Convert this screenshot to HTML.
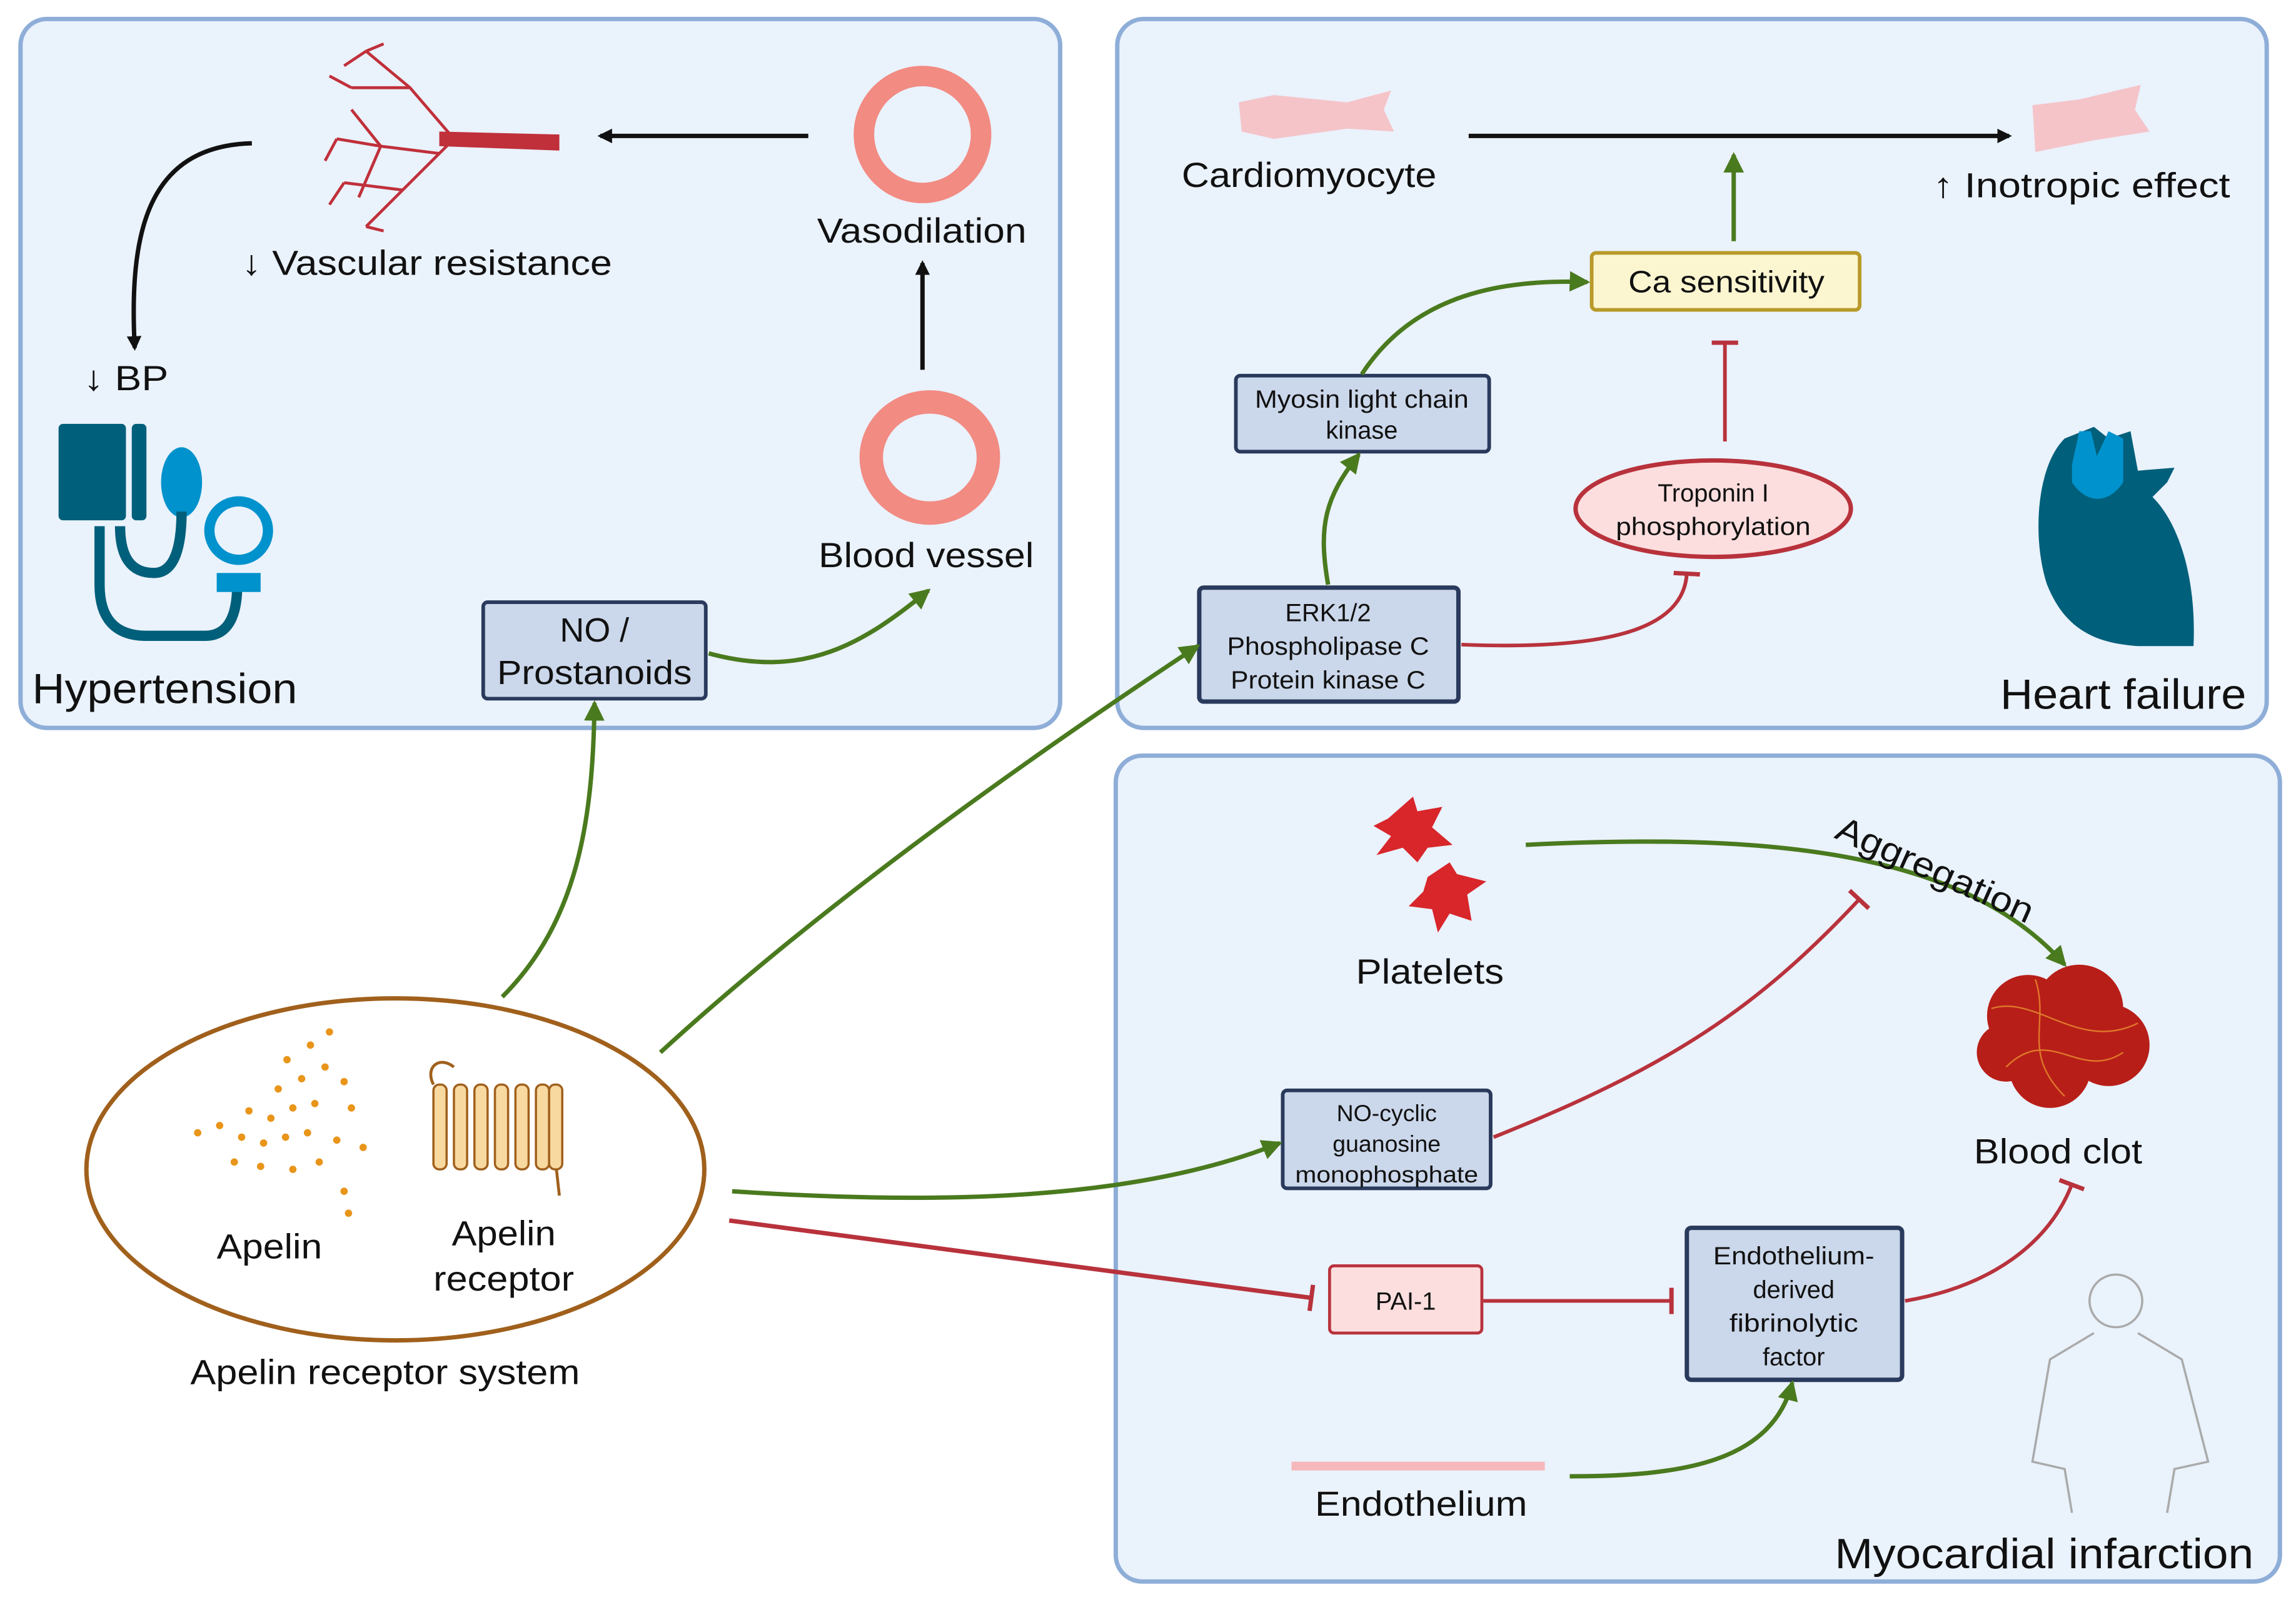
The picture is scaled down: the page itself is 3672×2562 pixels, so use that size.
<!DOCTYPE html>
<html><head><meta charset="utf-8"><style>
html,body{margin:0;padding:0;background:#fff}
svg{display:block}
text{font-family:"Liberation Sans",sans-serif;fill:#111}
</style></head><body>
<svg width="3672" height="2562" viewBox="0 0 1568 1096" preserveAspectRatio="none" xmlns="http://www.w3.org/2000/svg">
<defs>
<marker id="ab" markerWidth="10" markerHeight="10" refX="8" refY="5" orient="auto" markerUnits="userSpaceOnUse" viewBox="0 0 10 10"><path d="M0,0 L10,5 L0,10 Z" fill="#111"/></marker>
<marker id="ag" markerWidth="14" markerHeight="14" refX="12" refY="7" orient="auto" markerUnits="userSpaceOnUse" viewBox="0 0 14 14"><path d="M0,0 L14,7 L0,14 Z" fill="#4a7a1e"/></marker>
<marker id="tr" markerWidth="4" markerHeight="18" refX="2" refY="9" orient="auto" markerUnits="userSpaceOnUse" viewBox="0 0 4 18"><rect x="0" y="0" width="3" height="18" fill="#b8323c"/></marker>
</defs>
<g fill="#eaf2fc" stroke="#8eaed8" stroke-width="3">
<rect x="14" y="13" width="710" height="485" rx="18"/>
<rect x="763" y="13" width="785" height="485" rx="18"/>
<rect x="762" y="517" width="795" height="565" rx="18"/>
</g>
<!-- panel 1 -->
<g stroke="#c0303a" stroke-width="2" fill="none">
<path d="M380,97 L310,95 L280,60 L250,35 M280,60 L240,60 M310,95 L275,130 L250,155 M275,130 L235,125 M300,105 L260,100 L230,95 M260,100 L240,75 M260,100 L245,135 M250,35 L235,45 M250,35 L262,30 M240,60 L225,52 M230,95 L222,110 M250,155 L262,158 M235,125 L225,140"/>
</g>
<path d="M300,90 L382,92 L382,103 L300,100 Z" fill="#c0303a"/>
<text x="165" y="188" font-size="24" textLength="253" lengthAdjust="spacingAndGlyphs">↓ Vascular resistance</text>
<circle cx="630" cy="92" r="40" fill="none" stroke="#f28b82" stroke-width="14"/>
<text x="558" y="166" font-size="24" textLength="143" lengthAdjust="spacingAndGlyphs">Vasodilation</text>
<line x1="552" y1="93" x2="410" y2="93" stroke="#111" stroke-width="3" marker-end="url(#ab)"/>
<line x1="630" y1="253" x2="630" y2="180" stroke="#111" stroke-width="3" marker-end="url(#ab)"/>
<path d="M172,98 C100,100 88,160 92,238" fill="none" stroke="#111" stroke-width="3" marker-end="url(#ab)"/>
<text x="57" y="267" font-size="24" textLength="58" lengthAdjust="spacingAndGlyphs">↓ BP</text>
<ellipse cx="635" cy="313" rx="40" ry="38" fill="none" stroke="#f28b82" stroke-width="16"/>
<text x="559" y="388" font-size="24" textLength="147" lengthAdjust="spacingAndGlyphs">Blood vessel</text>
<rect x="40" y="290" width="46" height="66" rx="3" fill="#005f7a"/>
<rect x="90" y="290" width="10" height="66" rx="3" fill="#005f7a"/>
<ellipse cx="124" cy="330" rx="14" ry="24" fill="#0092cc"/>
<path d="M68,360 L68,400 Q68,435 100,435 L140,435 Q162,435 162,400" fill="none" stroke="#005f7a" stroke-width="7"/>
<path d="M82,360 Q82,392 105,392 Q124,392 124,350" fill="none" stroke="#005f7a" stroke-width="7"/>
<circle cx="163" cy="363" r="20" fill="none" stroke="#0092cc" stroke-width="7"/>
<rect x="148" y="392" width="30" height="13" fill="#0092cc"/>
<text x="22" y="481" font-size="29" textLength="181" lengthAdjust="spacingAndGlyphs">Hypertension</text>
<rect x="330" y="412" width="152" height="66" rx="3" fill="#cbd7ea" stroke="#2a3a5c" stroke-width="2.5"/>
<text x="406" y="439" font-size="23" text-anchor="middle">NO /</text>
<text x="406" y="468" font-size="23" text-anchor="middle" textLength="133" lengthAdjust="spacingAndGlyphs">Prostanoids</text>
<path d="M484,447 C550,465 590,440 634,404" fill="none" stroke="#4a7a1e" stroke-width="3" marker-end="url(#ag)"/>
<!-- panel 2 -->
<path d="M846,70 L870,65 L920,70 L950,62 L945,75 L952,90 L920,88 L870,95 L848,90 Z" fill="#f7b8bb" opacity="0.8"/>
<path d="M1388,72 L1420,68 L1462,58 L1458,75 L1468,90 L1430,96 L1390,104 Z" fill="#f7b8bb" opacity="0.8"/>
<text x="807" y="128" font-size="24" textLength="174" lengthAdjust="spacingAndGlyphs">Cardiomyocyte</text>
<line x1="1003" y1="93" x2="1372" y2="93" stroke="#111" stroke-width="3" marker-end="url(#ab)"/>
<text x="1320" y="135" font-size="24" textLength="203" lengthAdjust="spacingAndGlyphs">↑ Inotropic effect</text>
<line x1="1184" y1="165" x2="1184" y2="106" stroke="#4a7a1e" stroke-width="3" marker-end="url(#ag)"/>
<rect x="1087" y="173" width="183" height="39" rx="3" fill="#fcf6d0" stroke="#b89a2a" stroke-width="2.5"/>
<text x="1179" y="200" font-size="21" text-anchor="middle" textLength="134" lengthAdjust="spacingAndGlyphs">Ca sensitivity</text>
<line x1="1178" y1="302" x2="1178" y2="234" stroke="#b8323c" stroke-width="2.5" marker-end="url(#tr)"/>
<rect x="844" y="257" width="173" height="52" rx="3" fill="#cbd7ea" stroke="#2a3a5c" stroke-width="2.5"/>
<text x="930" y="279" font-size="17" text-anchor="middle" textLength="146" lengthAdjust="spacingAndGlyphs">Myosin light chain</text>
<text x="930" y="300" font-size="17" text-anchor="middle">kinase</text>
<path d="M930,256 C960,210 1010,190 1084,193" fill="none" stroke="#4a7a1e" stroke-width="3" marker-end="url(#ag)"/>
<ellipse cx="1170" cy="348" rx="94" ry="33" fill="#fcdede" stroke="#b8323c" stroke-width="3"/>
<text x="1170" y="343" font-size="17" text-anchor="middle">Troponin I</text>
<text x="1170" y="366" font-size="17" text-anchor="middle" textLength="133" lengthAdjust="spacingAndGlyphs">phosphorylation</text>
<rect x="819" y="402" width="177" height="78" rx="3" fill="#cbd7ea" stroke="#2a3a5c" stroke-width="3"/>
<text x="907" y="425" font-size="17" text-anchor="middle">ERK1/2</text>
<text x="907" y="448" font-size="17" text-anchor="middle" textLength="138" lengthAdjust="spacingAndGlyphs">Phospholipase C</text>
<text x="907" y="471" font-size="17" text-anchor="middle" textLength="133" lengthAdjust="spacingAndGlyphs">Protein kinase C</text>
<path d="M907,400 C900,360 905,340 928,311" fill="none" stroke="#4a7a1e" stroke-width="3" marker-end="url(#ag)"/>
<path d="M998,441 C1100,445 1150,430 1152,392" fill="none" stroke="#b8323c" stroke-width="2.5" marker-end="url(#tr)"/>
<path d="M1410,300 C1390,320 1388,370 1398,400 C1410,430 1430,440 1460,442 L1498,442 C1500,400 1490,360 1470,340 L1480,330 L1485,320 L1460,322 L1455,295 L1440,300 L1430,292 Z" fill="#005f7a"/>
<path d="M1415,318 L1420,295 L1428,295 L1432,312 L1440,295 L1450,300 L1450,330 C1440,345 1425,345 1415,330 Z" fill="#0092cc"/>
<text x="1366" y="485" font-size="29" textLength="168" lengthAdjust="spacingAndGlyphs">Heart failure</text>
<!-- panel 3 -->
<g fill="#d8262a">
<path d="M948,560 L965,545 L968,555 L985,552 L978,566 L992,578 L975,580 L968,590 L958,580 L940,585 L950,572 L938,565 Z"/>
<path d="M975,600 L990,590 L995,598 L1015,603 L1002,612 L1005,630 L990,625 L982,638 L978,622 L962,620 L972,610 Z"/>
</g>
<text x="926" y="673" font-size="24" textLength="101" lengthAdjust="spacingAndGlyphs">Platelets</text>
<path d="M1042,578 C1200,570 1340,580 1410,660" fill="none" stroke="#4a7a1e" stroke-width="3" marker-end="url(#ag)"/>
<text x="1252" y="573" font-size="24" transform="rotate(24 1252 573)" textLength="145" lengthAdjust="spacingAndGlyphs">Aggregation</text>
<g fill="#b81e18"><circle cx="1385" cy="695" r="28"/><circle cx="1420" cy="690" r="30"/><circle cx="1440" cy="715" r="28"/><circle cx="1400" cy="730" r="28"/><circle cx="1370" cy="720" r="20"/></g>
<g fill="none" stroke="#f0a030" stroke-width="1" opacity="0.7"><path d="M1360,690 C1390,680 1420,720 1460,700 M1370,730 C1400,700 1420,740 1450,720 M1390,670 C1400,700 1380,720 1410,750"/></g>
<text x="1348" y="796" font-size="24" textLength="115" lengthAdjust="spacingAndGlyphs">Blood clot</text>
<rect x="876" y="746" width="142" height="67" rx="3" fill="#cbd7ea" stroke="#2a3a5c" stroke-width="2.5"/>
<text x="947" y="767" font-size="16" text-anchor="middle">NO-cyclic</text>
<text x="947" y="788" font-size="16" text-anchor="middle">guanosine</text>
<text x="947" y="809" font-size="16" text-anchor="middle" textLength="125" lengthAdjust="spacingAndGlyphs">monophosphate</text>
<path d="M1020,778 C1140,730 1200,690 1270,615" fill="none" stroke="#b8323c" stroke-width="2.5" marker-end="url(#tr)"/>
<rect x="908" y="866" width="104" height="46" rx="3" fill="#fcdede" stroke="#b8323c" stroke-width="2"/>
<text x="960" y="896" font-size="17" text-anchor="middle">PAI-1</text>
<line x1="1013" y1="890" x2="1142" y2="890" stroke="#b8323c" stroke-width="2.5" marker-end="url(#tr)"/>
<rect x="1152" y="840" width="147" height="104" rx="3" fill="#cbd7ea" stroke="#2a3a5c" stroke-width="3"/>
<text x="1225" y="865" font-size="17" text-anchor="middle" textLength="110" lengthAdjust="spacingAndGlyphs">Endothelium-</text>
<text x="1225" y="888" font-size="17" text-anchor="middle">derived</text>
<text x="1225" y="911" font-size="17" text-anchor="middle" textLength="88" lengthAdjust="spacingAndGlyphs">fibrinolytic</text>
<text x="1225" y="934" font-size="17" text-anchor="middle">factor</text>
<path d="M1301,890 C1360,880 1400,850 1415,810" fill="none" stroke="#b8323c" stroke-width="2.5" marker-end="url(#tr)"/>
<path d="M882,1000 L1055,1000 L1055,1006 L882,1006 Z" fill="#f7b8bb"/>
<text x="898" y="1037" font-size="24" textLength="145" lengthAdjust="spacingAndGlyphs">Endothelium</text>
<path d="M1072,1010 C1150,1010 1210,1000 1224,946" fill="none" stroke="#4a7a1e" stroke-width="3" marker-end="url(#ag)"/>
<g fill="none" stroke="#aaa" stroke-width="1.5"><circle cx="1445" cy="890" r="18"/><path d="M1430,912 L1400,930 L1388,1000 L1410,1005 L1415,1035 M1460,912 L1490,930 L1508,1000 L1485,1005 L1480,1035"/></g>
<text x="1253" y="1073" font-size="29" textLength="286" lengthAdjust="spacingAndGlyphs">Myocardial infarction</text>
<!-- apelin system -->
<ellipse cx="270" cy="800" rx="211" ry="117" fill="#fff" stroke="#a0601c" stroke-width="3"/>
<g fill="#e8951a">
<circle cx="196" cy="725" r="2.5"/><circle cx="212" cy="715" r="2.5"/><circle cx="225" cy="706" r="2.5"/><circle cx="190" cy="745" r="2.5"/><circle cx="206" cy="738" r="2.5"/><circle cx="222" cy="730" r="2.5"/><circle cx="235" cy="740" r="2.5"/><circle cx="170" cy="760" r="2.5"/><circle cx="185" cy="765" r="2.5"/><circle cx="200" cy="758" r="2.5"/><circle cx="215" cy="755" r="2.5"/><circle cx="240" cy="758" r="2.5"/><circle cx="135" cy="775" r="2.5"/><circle cx="150" cy="770" r="2.5"/><circle cx="165" cy="778" r="2.5"/><circle cx="180" cy="782" r="2.5"/><circle cx="195" cy="778" r="2.5"/><circle cx="210" cy="775" r="2.5"/><circle cx="230" cy="780" r="2.5"/><circle cx="248" cy="785" r="2.5"/><circle cx="160" cy="795" r="2.5"/><circle cx="178" cy="798" r="2.5"/><circle cx="200" cy="800" r="2.5"/><circle cx="218" cy="795" r="2.5"/><circle cx="235" cy="815" r="2.5"/><circle cx="238" cy="830" r="2.5"/>
</g>
<g fill="#f8d9a0" stroke="#a0601c" stroke-width="1.5">
<rect x="296" y="742" width="9" height="58" rx="4"/><rect x="310" y="742" width="9" height="58" rx="4"/><rect x="324" y="742" width="9" height="58" rx="4"/><rect x="338" y="742" width="9" height="58" rx="4"/><rect x="352" y="742" width="9" height="58" rx="4"/><rect x="366" y="742" width="9" height="58" rx="4"/><rect x="375" y="742" width="9" height="58" rx="4"/>
</g>
<path d="M296,742 C290,730 300,722 310,730 M380,800 L382,818" fill="none" stroke="#a0601c" stroke-width="2"/>
<text x="148" y="861" font-size="24" textLength="72" lengthAdjust="spacingAndGlyphs">Apelin</text>
<text x="344" y="852" font-size="24" text-anchor="middle" textLength="71" lengthAdjust="spacingAndGlyphs">Apelin</text>
<text x="344" y="883" font-size="24" text-anchor="middle" textLength="96" lengthAdjust="spacingAndGlyphs">receptor</text>
<text x="130" y="947" font-size="24" textLength="266" lengthAdjust="spacingAndGlyphs">Apelin receptor system</text>
<!-- connectors -->
<path d="M343,682 C395,630 405,560 406,481" fill="none" stroke="#4a7a1e" stroke-width="3" marker-end="url(#ag)"/>
<path d="M451,720 C560,620 700,520 818,442" fill="none" stroke="#4a7a1e" stroke-width="3" marker-end="url(#ag)"/>
<path d="M500,815 C650,825 780,820 874,782" fill="none" stroke="#4a7a1e" stroke-width="3" marker-end="url(#ag)"/>
<line x1="498" y1="835" x2="896" y2="888" stroke="#b8323c" stroke-width="3" marker-end="url(#tr)"/>
</svg>
</body></html>
